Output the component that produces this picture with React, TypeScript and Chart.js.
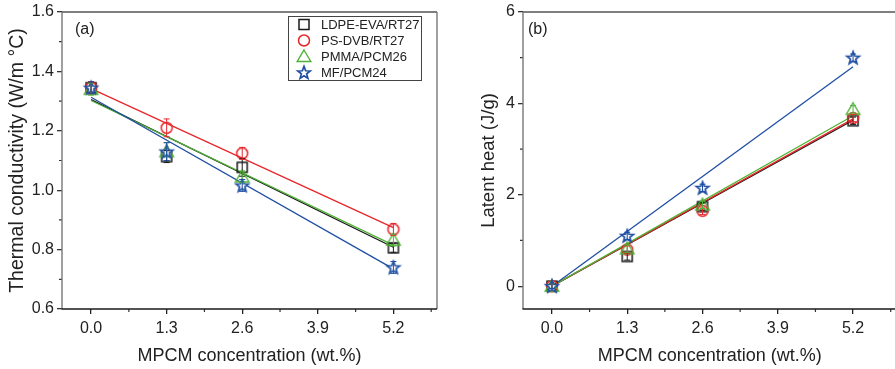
import React, { useEffect, useRef } from 'react';
import { Chart, registerables } from 'chart.js';

Chart.register(...registerables);

const FONT = '"Liberation Sans", Arial, Helvetica, sans-serif';
const TEXT = '#222222';

// ---- data ----
const SERIES_NAMES = ['LDPE-EVA/RT27', 'PS-DVB/RT27', 'PMMA/PCM26', 'MF/PCM24'];
const SERIES_COLORS = ['#1a1a1a', '#e8262a', '#4fb236', '#1f4fa3'];
const SERIES_MARKERS = ['square', 'circle', 'triangle', 'star'];

const X_VALUES = [0, 1.3, 2.6, 5.2];
const FIT_X = [0, 5.2];
const X_TICKS = [0, 1.3, 2.6, 3.9, 5.2];
const X_MINOR = [0.65, 1.95, 3.25, 4.55, 5.85];

// (a) thermal conductivity
const TC_LDPE = [1.345, 1.113, 1.077, 0.806];
const TC_PS = [1.345, 1.21, 1.124, 0.868];
const TC_PMMA = [1.34, 1.13, 1.045, 0.832];
const TC_MF = [1.345, 1.13, 1.016, 0.74];
const TC_ERR_LDPE = [0.02, 0.02, 0.03, 0.015];
const TC_ERR_PS = [0.02, 0.03, 0.02, 0.02];
const TC_ERR_PMMA = [0.02, 0.03, 0.02, 0.02];
const TC_ERR_MF = [0.02, 0.03, 0.02, 0.02];
const TC_FIT_LDPE = [1.305, 0.808];
const TC_FIT_PS = [1.342, 0.874];
const TC_FIT_PMMA = [1.302, 0.815];
const TC_FIT_MF = [1.313, 0.735];
const TC_Y_TICKS = [0.6, 0.8, 1.0, 1.2, 1.4, 1.6];
const TC_Y_MINOR = [0.7, 0.9, 1.1, 1.3, 1.5];

// (b) latent heat
const LH_LDPE = [0, 0.65, 1.74, 3.62];
const LH_PS = [0, 0.8, 1.65, 3.68];
const LH_PMMA = [0, 0.82, 1.78, 3.87];
const LH_MF = [0, 1.1, 2.15, 5.0];
const LH_ERR_LDPE = [0.05, 0.08, 0.08, 0.08];
const LH_ERR_PS = [0.05, 0.08, 0.08, 0.08];
const LH_ERR_PMMA = [0.05, 0.08, 0.08, 0.08];
const LH_ERR_MF = [0.05, 0.08, 0.08, 0.08];
const LH_FIT_LDPE = [0, 3.63];
const LH_FIT_PS = [0, 3.66];
const LH_FIT_PMMA = [0, 3.73];
const LH_FIT_MF = [0, 4.8];
const LH_Y_TICKS = [0, 2, 4, 6];
const LH_Y_MINOR = [1, 3, 5];

// ---- markers ----
function drawMarker(ctx: CanvasRenderingContext2D, kind: string, cx: number, cy: number, color: string) {
  ctx.save();
  ctx.strokeStyle = color;
  ctx.lineJoin = 'miter';
  ctx.beginPath();
  if (kind === 'square') {
    ctx.lineWidth = 1.5;
    ctx.rect(cx - 5, cy - 5, 10, 10);
    ctx.stroke();
  } else if (kind === 'circle') {
    ctx.lineWidth = 1.5;
    ctx.arc(cx, cy, 5.5, 0, Math.PI * 2);
    ctx.stroke();
  } else if (kind === 'triangle') {
    ctx.lineWidth = 1.4;
    ctx.moveTo(cx, cy - 6.5);
    ctx.lineTo(cx + 6.8, cy + 5);
    ctx.lineTo(cx - 6.8, cy + 5);
    ctx.closePath();
    ctx.stroke();
  } else {
    ctx.lineWidth = 1.7;
    const ro = 6.6, ri = 2.8;
    for (let i = 0; i < 10; i++) {
      const r = i % 2 === 0 ? ro : ri;
      const a = -Math.PI / 2 + (i * Math.PI) / 5;
      const px = cx + r * Math.cos(a);
      const py = cy + 0.5 + r * Math.sin(a);
      if (i === 0) ctx.moveTo(px, py);
      else ctx.lineTo(px, py);
    }
    ctx.closePath();
    ctx.fillStyle = '#ffffff';
    ctx.fill();
    ctx.stroke();
  }
  ctx.restore();
}

function makeMarker(kind: string, color: string): HTMLCanvasElement {
  const c = document.createElement('canvas');
  c.width = 20;
  c.height = 20;
  const ctx = c.getContext('2d') as CanvasRenderingContext2D;
  drawMarker(ctx, kind, 10, 10, color);
  return c;
}

// ---- decoration plugin ----
const decorPlugin = {
  id: 'panelDecor',
  afterDatasetsDraw(chart: any) {
    const ctx = chart.ctx as CanvasRenderingContext2D;
    const yScale = chart.scales.y;
    chart.data.datasets.forEach((ds: any, i: number) => {
      if (!ds.errorBars) return;
      const meta = chart.getDatasetMeta(i);
      ctx.save();
      ctx.strokeStyle = ds.borderColor;
      ctx.lineWidth = 1;
      ds.data.forEach((pt: any, j: number) => {
        const e = ds.errorBars[j];
        const el = meta.data[j];
        if (!el) return;
        const x = el.x;
        const y1 = yScale.getPixelForValue(pt.y + e);
        const y2 = yScale.getPixelForValue(pt.y - e);
        ctx.beginPath();
        ctx.moveTo(x, y1);
        ctx.lineTo(x, y2);
        ctx.moveTo(x - 3, y1);
        ctx.lineTo(x + 3, y1);
        ctx.moveTo(x - 3, y2);
        ctx.lineTo(x + 3, y2);
        ctx.stroke();
      });
      ctx.restore();
    });
  },
  afterDraw(chart: any, _args: any, opts: any) {
    const ctx = chart.ctx as CanvasRenderingContext2D;
    const a = chart.chartArea;
    const xs = chart.scales.x;
    const ys = chart.scales.y;
    ctx.save();
    // minor ticks
    ctx.strokeStyle = '#333';
    ctx.lineWidth = 1.2;
    ctx.beginPath();
    (opts.xMinor || []).forEach((v: number) => {
      const px = xs.getPixelForValue(v);
      ctx.moveTo(px, a.bottom);
      ctx.lineTo(px, a.bottom + 3);
    });
    (opts.yMinor || []).forEach((v: number) => {
      const py = ys.getPixelForValue(v);
      ctx.moveTo(a.left - 3, py);
      ctx.lineTo(a.left, py);
    });
    ctx.stroke();
    // frame
    ctx.lineWidth = 1.4;
    const side = (c: string, x1: number, y1: number, x2: number, y2: number) => {
      ctx.strokeStyle = c;
      ctx.beginPath();
      ctx.moveTo(x1, y1);
      ctx.lineTo(x2, y2);
      ctx.stroke();
    };
    side('#555555', a.left, a.top, a.right, a.top);
    side('#777777', a.right, a.top, a.right, a.bottom);
    side('#777777', a.left, a.top, a.left, a.bottom);
    side('#1a1a1a', a.left - 0.5, a.bottom, a.right, a.bottom);
    // panel label
    ctx.fillStyle = TEXT;
    ctx.font = `16px ${FONT}`;
    ctx.textAlign = 'left';
    ctx.textBaseline = 'middle';
    ctx.fillText(opts.label, a.left + opts.labelDx, a.top + 18);
    // legend
    if (opts.legend) {
      const w = 133, h = 64;
      const bx = a.right - 16 - w;
      const by = a.top + 4;
      ctx.strokeStyle = '#444';
      ctx.lineWidth = 1;
      ctx.strokeRect(bx + 0.5, by + 0.5, w, h);
      ctx.font = `13px ${FONT}`;
      ctx.fillStyle = TEXT;
      SERIES_NAMES.forEach((name, i) => {
        const cy = by + 8.5 + i * 16;
        drawMarker(ctx, SERIES_MARKERS[i], bx + 16, cy, SERIES_COLORS[i]);
        ctx.fillText(name, bx + 33, cy + 0.5);
      });
    }
    ctx.restore();
  },
};

type PanelCfg = {
  left: number;
  width: number;
  areaLeft: number;
  areaRight: number;
  areaTop: number;
  areaBottom: number;
  yMin: number;
  yMax: number;
  yTicks: number[];
  yMinor: number[];
  yDigits: number;
  yTitle: string;
  yTitleSize: number;
  yTitlePad: number;
  label: string;
  labelDx: number;
  legend: boolean;
  values: number[][];
  errors: number[][];
  fits: number[][];
};

const H = 369;

function Panel({ cfg }: { cfg: PanelCfg }) {
  const ref = useRef<HTMLCanvasElement>(null);
  useEffect(() => {
    if (!ref.current) return;
    const markerImgs = SERIES_MARKERS.map((m, i) => makeMarker(m, SERIES_COLORS[i]));
    const drawOrder = [4, 3, 2, 1]; // lower order drawn on top
    const markerSets = SERIES_NAMES.map((name, i) => ({
      label: name,
      data: X_VALUES.map((x, j) => ({ x, y: cfg.values[i][j] })),
      errorBars: cfg.errors[i],
      borderColor: SERIES_COLORS[i],
      backgroundColor: 'transparent',
      pointStyle: markerImgs[i],
      pointRadius: 6,
      showLine: false,
      order: drawOrder[i],
    }));
    const fitSets = SERIES_NAMES.map((name, i) => ({
      label: name + ' fit',
      data: FIT_X.map((x, j) => ({ x, y: cfg.fits[i][j] })),
      borderColor: SERIES_COLORS[i],
      backgroundColor: SERIES_COLORS[i],
      borderWidth: 1.3,
      pointRadius: 0,
      showLine: true,
      order: 10 + drawOrder[i],
    }));
    const chart = new Chart(ref.current, {
      type: 'scatter',
      data: { datasets: [...markerSets, ...fitSets] as any },
      plugins: [decorPlugin as any],
      options: {
        animation: false,
        responsive: false,
        devicePixelRatio: 1,
        events: [],
        layout: {
          padding: { left: 0, top: cfg.areaTop, right: cfg.width - cfg.areaRight, bottom: 0 },
        },
        plugins: {
          legend: { display: false },
          tooltip: { enabled: false },
          panelDecor: {
            xMinor: X_MINOR,
            yMinor: cfg.yMinor,
            label: cfg.label,
            labelDx: cfg.labelDx,
            legend: cfg.legend,
          },
        } as any,
        scales: {
          x: {
            type: 'linear',
            min: -0.5,
            max: 5.95,
            afterBuildTicks: (s: any) => {
              s.ticks = X_TICKS.map((v) => ({ value: v }));
            },
            afterFit: (s: any) => {
              s.height = H - cfg.areaBottom;
              s.paddingLeft = 0;
              s.paddingRight = 0;
            },
            ticks: {
              callback: (v: any) => Number(v).toFixed(1),
              font: { family: FONT, size: 16 },
              color: TEXT,
              padding: 5,
              maxRotation: 0,
              autoSkip: false,
            },
            grid: {
              display: true,
              drawOnChartArea: false,
              drawTicks: true,
              tickLength: 5,
              tickColor: '#222',
              lineWidth: 1.3,
            },
            border: { display: false },
            title: {
              display: true,
              text: 'MPCM concentration (wt.%)',
              font: { family: FONT, size: 18 },
              color: TEXT,
              padding: { top: 0, bottom: 2 },
            },
          },
          y: {
            type: 'linear',
            min: cfg.yMin,
            max: cfg.yMax,
            afterBuildTicks: (s: any) => {
              s.ticks = cfg.yTicks.map((v) => ({ value: v }));
            },
            afterFit: (s: any) => {
              s.width = cfg.areaLeft;
              s.paddingTop = 0;
              s.paddingBottom = 0;
            },
            ticks: {
              callback: (v: any) => Number(v).toFixed(cfg.yDigits),
              font: { family: FONT, size: 16 },
              color: TEXT,
              padding: 3,
            },
            grid: {
              display: true,
              drawOnChartArea: false,
              drawTicks: true,
              tickLength: 5,
              tickColor: '#333',
              lineWidth: 1.3,
            },
            border: { display: false },
            title: {
              display: true,
              text: cfg.yTitle,
              font: { family: FONT, size: cfg.yTitleSize },
              color: TEXT,
              padding: { top: cfg.yTitlePad, bottom: 0 },
            },
          },
        },
      } as any,
    });
    return () => chart.destroy();
  }, []);
  return (
    <canvas
      ref={ref}
      width={cfg.width}
      height={H}
      style={{ position: 'absolute', left: cfg.left, top: 0, width: cfg.width, height: H }}
    />
  );
}

const PANEL_A: PanelCfg = {
  left: 0,
  width: 447,
  areaLeft: 62,
  areaRight: 437,
  areaTop: 12,
  areaBottom: 309,
  yMin: 0.6,
  yMax: 1.6,
  yTicks: TC_Y_TICKS,
  yMinor: TC_Y_MINOR,
  yDigits: 1,
  yTitle: 'Thermal conductivity (W/m \u00B0C)',
  yTitleSize: 19.5,
  yTitlePad: 6,
  label: '(a)',
  labelDx: 13,
  legend: true,
  values: [TC_LDPE, TC_PS, TC_PMMA, TC_MF],
  errors: [TC_ERR_LDPE, TC_ERR_PS, TC_ERR_PMMA, TC_ERR_MF],
  fits: [TC_FIT_LDPE, TC_FIT_PS, TC_FIT_PMMA, TC_FIT_MF],
};

const PANEL_B: PanelCfg = {
  left: 450,
  width: 460,
  areaLeft: 73,
  areaRight: 446.5,
  areaTop: 12,
  areaBottom: 309,
  yMin: -0.5,
  yMax: 6,
  yTicks: LH_Y_TICKS,
  yMinor: LH_Y_MINOR,
  yDigits: 0,
  yTitle: 'Latent heat (J/g)',
  yTitleSize: 18.5,
  yTitlePad: 28,
  label: '(b)',
  labelDx: 5,
  legend: false,
  values: [LH_LDPE, LH_PS, LH_PMMA, LH_MF],
  errors: [LH_ERR_LDPE, LH_ERR_PS, LH_ERR_PMMA, LH_ERR_MF],
  fits: [LH_FIT_LDPE, LH_FIT_PS, LH_FIT_PMMA, LH_FIT_MF],
};

export default function App() {
  return (
    <div
      style={{
        position: 'fixed',
        left: 0,
        top: 0,
        width: 895,
        height: H,
        overflow: 'hidden',
        background: '#ffffff',
      }}
    >
      <Panel cfg={PANEL_A} />
      <Panel cfg={PANEL_B} />
    </div>
  );
}
